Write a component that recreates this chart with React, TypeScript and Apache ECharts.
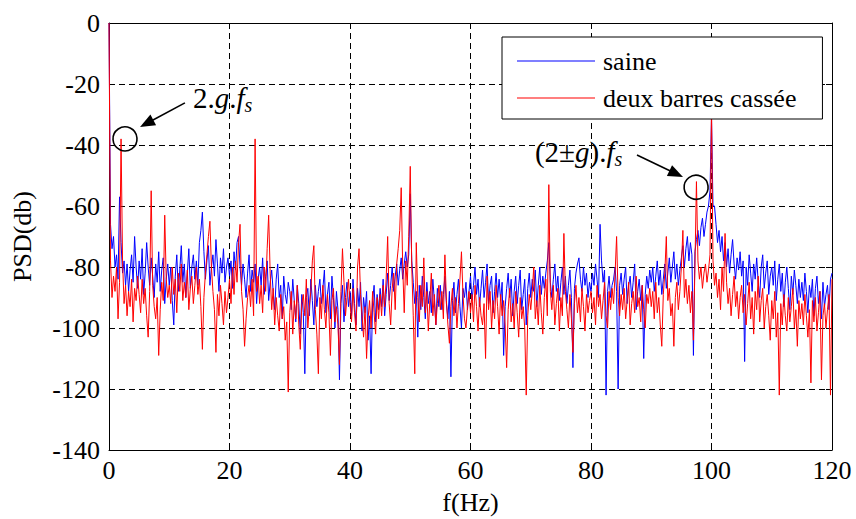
import React, { useEffect, useRef } from "react";
import * as echarts from "echarts";

const FONT = "'Times New Roman', Tinos, 'Liberation Serif', 'DejaVu Serif', serif";
const STEP = 0.25; // Hz between samples
const X_TICKS = [0, 20, 40, 60, 80, 100, 120];
const Y_TICKS = [-140, -120, -100, -80, -60, -40, -20, 0];

// PSD (dB) of the healthy motor, one value every 0.25 Hz from 0 to 120 Hz
const saine = [
  0, -66, -74, -70, -80, -76, -84, -57, -72, -82, -78, -86, -79, -88, -81, -76, -85, -70, -80, -87,
  -78, -84, -74, -89, -82, -72, -80, -86, -77, -83, -90, -79, -85, -75, -88, -81, -77, -92, -84, -79,
  -86, -80, -91, -99, -83, -76, -88, -81, -73, -85, -79, -90, -82, -74, -87, -80, -76, -84, -78, -86,
  -72, -68, -62, -75, -84, -78, -73, -86, -80, -76, -83, -71, -79, -88, -77, -82, -74, -85, -80, -77,
  -83, -78, -87, -75, -81, -72, -70, -80, -86, -79, -84, -90, -82, -76, -88, -81, -85, -79, -92, -84,
  -80, -86, -77, -89, -83, -78, -91, -85, -81, -88, -94, -84, -79, -90, -86, -97, -83, -89, -92, -85,
  -88, -94, -84, -91, -98, -86, -92, -102, -89, -95, -115, -90, -87, -96, -84, -91, -99, -86, -93, -88,
  -84, -92, -87, -81, -95, -89, -85, -97, -83, -90, -100, -88, -94, -117, -92, -86, -98, -90, -85, -93,
  -88, -96, -84, -92, -99, -87, -93, -85, -101, -90, -95, -88, -104, -96, -115, -91, -86, -98, -89, -94,
  -87, -93, -84, -96, -89, -82, -91, -86, -80, -88, -83, -79, -86, -81, -77, -84, -79, -75, -80, -76,
  -56, -78, -85, -92, -88, -103, -86, -94, -83, -90, -97, -85, -92, -88, -95, -84, -91, -99, -87, -93,
  -86, -94, -89, -83, -92, -97, -88, -116, -91, -85, -95, -89, -84, -93, -100, -87, -90, -85, -94, -88,
  -83, -91, -86, -80, -89, -84, -93, -87, -81, -90, -85, -79, -92, -86, -83, -95, -88, -82, -90, -84,
  -91, -85, -109, -93, -87, -82, -90, -84, -96, -88, -83, -92, -86, -81, -94, -89, -84, -99, -87, -82,
  -90, -84, -88, -81, -93, -86, -80, -89, -83, -87, -82, -78, -72, -85, -90, -84, -79, -88, -83, -91,
  -85, -80, -89, -83, -92, -86, -81, -90, -113, -87, -82, -79, -77, -84, -88, -80, -86, -82, -90, -85,
  -88, -82, -86, -79, -84, -90, -66, -78, -85, -81, -122, -88, -83, -90, -86, -84, -80, -88, -120, -86,
  -82, -89, -84, -80, -92, -86, -83, -90, -85, -79, -94, -88, -84, -91, -86, -110, -89, -83, -87, -81,
  -85, -80, -88, -83, -78, -86, -81, -89, -84, -79, -87, -82, -77, -85, -80, -75, -84, -79, -86, -81,
  -77, -73, -80, -74, -70, -78, -72, -76, -109, -75, -71, -68, -73, -67, -64, -70, -66, -62, -60, -55,
  -31, -60, -60, -66, -72, -68, -75, -70, -78, -72, -80, -74, -82, -76, -71, -79, -84, -77, -81, -75,
  -83, -78, -111, -80, -86, -76, -82, -88, -79, -84, -77, -85, -90, -80, -76, -87, -82, -78, -89, -83,
  -80, -86, -78, -91, -84, -79, -88, -82, -93, -85, -80, -87, -94, -83, -89, -81, -86, -92, -84, -90,
  -85, -91, -82, -88, -95, -86, -90, -84, -96, -87, -83, -92, -88, -97, -85, -93, -89, -86, -94, -84,
  -82,
];

// PSD (dB) with two broken rotor bars, same frequency grid
const cassee = [
  0, -78, -90, -83, -88, -80, -97, -85, -38, -78, -92, -86, -96, -88, -93, -84, -98, -87, -91, -83,
  -89, -95, -84, -92, -87, -96, -103, -88, -55, -86, -93, -97, -90, -109, -94, -85, -91, -63, -84, -90,
  -86, -92, -80, -89, -84, -95, -82, -88, -79, -91, -85, -90, -81, -94, -87, -83, -92, -86, -80, -89,
  -84, -93, -107, -90, -82, -76, -70, -65, -80, -88, -94, -108, -89, -96, -86, -92, -99, -88, -95, -90,
  -84, -92, -80, -89, -78, -85, -72, -66, -88, -94, -106, -97, -90, -86, -93, -84, -96, -38, -88, -83,
  -92, -86, -95, -80, -88, -74, -63, -82, -94, -87, -99, -90, -96, -101, -89, -97, -93, -104, -98, -121,
  -95, -88, -102, -91, -97, -86, -99, -107, -92, -89, -96, -84, -100, -93, -88, -78, -73, -94, -102, -115,
  -90, -97, -86, -94, -100, -89, -95, -109, -91, -87, -98, -93, -99, -112, -88, -74, -85, -96, -90, -84,
  -92, -98, -87, -95, -101, -80, -74, -89, -96, -103, -93, -110, -97, -91, -100, -88, -95, -102, -90, -97,
  -89, -96, -86, -93, -84, -70, -92, -99, -87, -82, -94, -79, -74, -68, -54, -80, -95, -78, -86, -70,
  -47, -80, -96, -115, -72, -90, -98, -86, -93, -77, -95, -88, -101, -91, -82, -96, -89, -99, -92, -86,
  -94, -88, -97, -76, -91, -99, -105, -93, -87, -96, -90, -100, -92, -84, -75, -89, -97, -100, -93, -88,
  -95, -89, -98, -86, -93, -101, -90, -96, -99, -92, -110, -83, -94, -88, -100, -91, -97, -86, -93, -102,
  -89, -96, -91, -99, -113, -94, -87, -98, -92, -100, -88, -95, -103, -90, -97, -93, -100, -122, -96, -89,
  -94, -88, -80, -97, -91, -99, -86, -95, -102, -90, -84, -96, -53, -88, -94, -86, -99, -92, -87, -101,
  -90, -96, -69, -88, -94, -100, -89, -97, -108, -92, -86, -95, -90, -98, -87, -93, -101, -89, -95, -91,
  -88, -95, -90, -99, -86, -93, -89, -97, -91, -85, -96, -100, -88, -94, -87, -92, -82, -70, -90, -96,
  -89, -94, -87, -97, -91, -85, -99, -92, -88, -95, -83, -93, -90, -98, -86, -94, -100, -89, -92, -87,
  -93, -88, -97, -85, -95, -90, -99, -106, -89, -82, -70, -91, -87, -96, -92, -106, -90, -85, -94, -88,
  -80, -68, -90, -84, -92, -86, -95, -88, -104, -80, -52, -78, -84, -80, -87, -82, -79, -85, -81, -76,
  -28, -78, -86, -82, -90, -84, -94, -80, -88, -69, -85, -92, -87, -96, -89, -83, -93, -88, -97, -90,
  -86, -95, -89, -99, -92, -85, -97, -90, -102, -88, -94, -83, -98, -91, -87, -100, -93, -89, -96, -104,
  -91, -97, -88, -103, -95, -122, -92, -99, -89, -96, -101, -90, -98, -93, -87, -100, -94, -106, -91, -97,
  -92, -99, -89, -96, -103, -94, -118, -91, -98, -90, -101, -95, -88, -117, -96, -92, -100, -94, -89, -122,
  -84,
];

// annotation anchors in data units [Hz, dB]
const ANN1 = { circle: [2.65, -37.7], tail: [12.6, -26.2], tip: [5.15, -34.1], text: [13.94, -24.6] };
const ANN2 = { circle: [97.43, -53.4], tail: [87.63, -43.3], tip: [95.27, -50.5], text: [70.7, -42.3] };

const toPairs = (vals: number[]) => vals.map((v, i) => [i * STEP, v]);

export default function App() {
  const ref = useRef<HTMLDivElement>(null);
  useEffect(() => {
    document.body.style.margin = "0";
    if (!ref.current) return;
    const chart = echarts.init(ref.current, undefined, { renderer: "svg" });
    const axisText = { fontFamily: FONT, fontSize: 26, color: "#000" };
    const split = { show: true, lineStyle: { type: [6, 4] as any, color: "#000", width: 1 } };
    const line = { show: true, onZero: false, lineStyle: { color: "#000", width: 1 } };
    const tick = { show: true, inside: true, length: 6, lineStyle: { color: "#000" } };
    chart.setOption({
      animation: false,
      backgroundColor: "#fff",
      textStyle: { fontFamily: FONT },
      grid: { left: 109, right: 24, top: 23, bottom: 69, containLabel: false, outerBoundsMode: "none" },
      xAxis: [
        {
          type: "value", min: X_TICKS[0], max: X_TICKS[X_TICKS.length - 1], interval: 20,
          position: "bottom", axisLine: line, axisTick: tick, splitLine: split,
          axisLabel: { ...axisText, margin: 7 },
          name: "f(Hz)", nameLocation: "middle", nameGap: 39,
          nameTextStyle: { ...axisText, lineHeight: 26 },
        },
        {
          type: "value", min: 0, max: 120, interval: 20, position: "top",
          axisLine: line, axisTick: tick, splitLine: { show: false }, axisLabel: { show: false },
        },
      ],
      yAxis: [
        {
          type: "value", min: Y_TICKS[0], max: Y_TICKS[Y_TICKS.length - 1], interval: 20,
          position: "left", axisLine: line, axisTick: tick, splitLine: split,
          axisLabel: { ...axisText, margin: 9 },
          name: "PSD(db)", nameLocation: "middle", nameGap: 74, nameTextStyle: axisText,
        },
        {
          type: "value", min: -140, max: 0, interval: 20, position: "right",
          axisLine: line, axisTick: tick, splitLine: { show: false }, axisLabel: { show: false },
        },
      ],
      legend: {
        orient: "vertical", left: 502, top: 37, padding: [11, 26, 8, 15], itemGap: 11,
        itemWidth: 78, itemHeight: 1, icon: "rect",
        backgroundColor: "#fff", borderColor: "#000", borderWidth: 1, borderRadius: 0,
        textStyle: { fontFamily: FONT, fontSize: 26, lineHeight: 26, color: "#000", padding: [0, 0, 0, 3] },
        data: ["saine", "deux barres cassée"], selectedMode: false,
      },
      series: [
        {
          name: "saine", type: "line", data: toPairs(saine), showSymbol: false, symbol: "none",
          lineStyle: { color: "#0000ff", width: 1 }, itemStyle: { color: "#0000ff" }, silent: true,
        },
        {
          name: "deux barres cassée", type: "line", data: toPairs(cassee), showSymbol: false, symbol: "none",
          lineStyle: { color: "#ff0000", width: 1 }, itemStyle: { color: "#ff0000" }, silent: true,
        },
      ],
    });

    const px = (p: number[]) => chart.convertToPixel({ xAxisIndex: 0, yAxisIndex: 0 }, p) as number[];
    const arrow = (a: any) => {
      const t = px(a.tail), h = px(a.tip);
      const dx = h[0] - t[0], dy = h[1] - t[1];
      const len = Math.hypot(dx, dy);
      const ux = dx / len, uy = dy / len, nx = -uy, ny = ux;
      const L = 15, W = 6;
      const c = px(a.circle);
      return [
        { type: "circle", shape: { cx: c[0], cy: c[1], r: 12 }, style: { fill: "none", stroke: "#000", lineWidth: 1.6 }, z: 100 },
        { type: "line", shape: { x1: t[0], y1: t[1], x2: h[0] - ux * L * 0.7, y2: h[1] - uy * L * 0.7 }, style: { stroke: "#000", lineWidth: 1.6 }, z: 100 },
        {
          type: "polygon",
          shape: { points: [[h[0], h[1]], [h[0] - ux * L + nx * W, h[1] - uy * L + ny * W], [h[0] - ux * L - nx * W, h[1] - uy * L - ny * W]] },
          style: { fill: "#000" }, z: 100,
        },
      ];
    };
    const rich = {
      n: { fontFamily: FONT, fontSize: 29, lineHeight: 34, fill: "#000" },
      i: { fontFamily: FONT, fontSize: 29, lineHeight: 34, fontStyle: "italic", fill: "#000" },
      s: { fontFamily: FONT, fontSize: 20, lineHeight: 22, fontStyle: "italic", verticalAlign: "bottom", fill: "#000" },
    };
    const t1 = px(ANN1.text), t2 = px(ANN2.text);
    chart.setOption({
      graphic: [
        ...arrow(ANN1),
        ...arrow(ANN2),
        {
          type: "text", x: t1[0], y: t1[1], z: 100,
          style: { text: "{n|2.}{i|g}{n|.}{i|f}{s|s}", rich, fontFamily: FONT, verticalAlign: "middle", align: "left" },
        },
        {
          type: "text", x: t2[0], y: t2[1], z: 100,
          style: { text: "{n|(2±}{i|g}{n|).}{i|f}{s|s}", rich, fontFamily: FONT, verticalAlign: "middle", align: "left" },
        },
      ],
    });
    return () => chart.dispose();
  }, []);
  return <div ref={ref} style={{ width: 856, height: 519 }} />;
}
